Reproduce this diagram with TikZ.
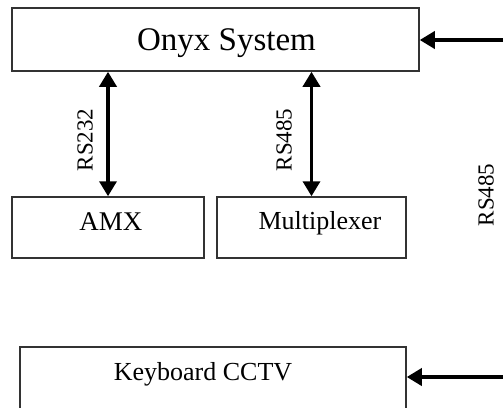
\documentclass[tikz,border=0pt]{standalone}
\usepackage{fontspec}
\setmainfont{Liberation Serif}
\usetikzlibrary{calc}
\usetikzlibrary{positioning}
\usetikzlibrary{arrows.meta}

\begin{document}
\begin{tikzpicture}[%
  x=1pt, y=-1pt,
  >={Triangle[length=15pt, width=17pt]},
  unit/.style={draw=black!80, line width=1.5pt, inner sep=0pt},
  caption/.style={anchor=base, inner sep=0pt},
  link/.style={line width=3.5pt, black},
  busname/.style={rotate=90, inner sep=0pt, font=\fontsize{23}{25}\selectfont},
]

  \useasboundingbox (0,0) rectangle (503,407);
  \clip (0,0) rectangle (503,407);

  % units
  \node[unit, minimum width=407pt, minimum height=63pt] (onyx) at (215.5,39.5) {};
  \node[unit, minimum width=192pt, minimum height=61pt] (amx) at (108,227.5) {};
  \node[unit, minimum width=189pt, minimum height=61pt] (mux) at (311.5,227.5) {};
  \node[unit, minimum width=386pt, minimum height=100pt] (keyboard) at (213,397) {};

  \node[caption, font=\fontsize{33}{36}\selectfont] (onyx-text) at (226.5,50) {Onyx System};
  \node[caption, font=\fontsize{27}{30}\selectfont] (amx-text) at (111,230) {AMX};
  \node[caption, font=\fontsize{26}{29}\selectfont] (mux-text) at (320,229) {Multiplexer};
  \node[caption, font=\fontsize{26}{29}\selectfont] (keyboard-text) at (203,380) {Keyboard CCTV};

  % inputs from the right
  \coordinate (in-onyx) at (503,40);
  \coordinate (in-keyboard) at (503,377);

  \draw[link, ->] (in-onyx) -- (onyx.east |- in-onyx);
  \draw[link, ->] (in-keyboard) -- (keyboard.east |- in-keyboard);

  % buses
  \draw[link, <->] (amx.north) -- (amx.north |- onyx.south);
  \draw[link, <->] (mux.north) -- (mux.north |- onyx.south);

  \node[busname] (rs232) at (85,140) {RS232};
  \node[busname] (rs485-mux) at (284,140) {RS485};
  \node[busname] (rs485-in) at (486,195) {RS485};

\end{tikzpicture}
\end{document}
